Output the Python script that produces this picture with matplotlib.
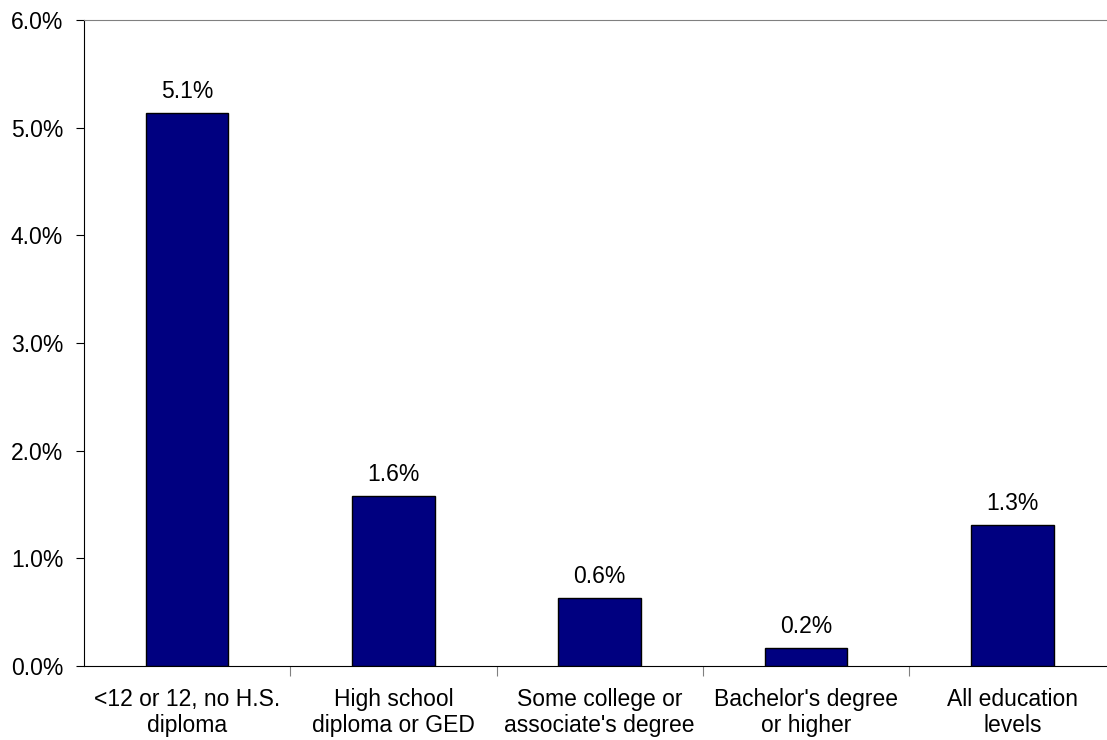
import matplotlib.pyplot as plt
from matplotlib.ticker import FixedLocator, NullFormatter

plt.rcParams['font.family'] = ['Liberation Sans', 'DejaVu Sans']

categories = ["<12 or 12, no H.S.\ndiploma", "High school\ndiploma or GED",
              "Some college or\nassociate's degree", "Bachelor's degree\nor higher",
              "All education\nlevels"]
values = [5.14, 1.58, 0.63, 0.17, 1.31]
value_labels = ["5.1%", "1.6%", "0.6%", "0.2%", "1.3%"]
yticks = [0, 1, 2, 3, 4, 5, 6]

fs = 16.5

fig = plt.figure(figsize=(11.07, 7.4), dpi=100)
ax = fig.add_axes([84 / 1107, 74 / 740, 1031.5 / 1107, 646 / 740])

x = range(len(categories))
ax.bar(x, values, width=0.4, color='#000080', edgecolor='black', linewidth=1, zorder=3)

for xi, v, lab in zip(x, values, value_labels):
    ax.text(xi, v + 0.09, lab, ha='center', va='bottom', fontsize=fs)

ax.set_xlim(-0.5, len(categories) - 0.5)
ax.set_ylim(0, 6)
ax.set_yticks(yticks)
ax.set_yticklabels([f"{t:.1f}%" for t in yticks], fontsize=fs)

ax.xaxis.set_major_locator(FixedLocator([i + 0.5 for i in range(len(categories) - 1)]))
ax.xaxis.set_major_formatter(NullFormatter())
ax.xaxis.set_minor_locator(FixedLocator(list(x)))
ax.set_xticklabels(categories, minor=True, fontsize=fs, linespacing=1.15)
ax.tick_params(axis='x', which='minor', length=0, pad=16)
ax.tick_params(axis='x', which='major', length=7, color='#808080', direction='out')
ax.tick_params(axis='y', length=6, direction='out', pad=9)

ax.spines['right'].set_visible(False)
ax.spines['top'].set_color('#808080')
ax.spines['left'].set_color('black')
ax.spines['bottom'].set_color('black')

fig.savefig("out.png", dpi=100)
